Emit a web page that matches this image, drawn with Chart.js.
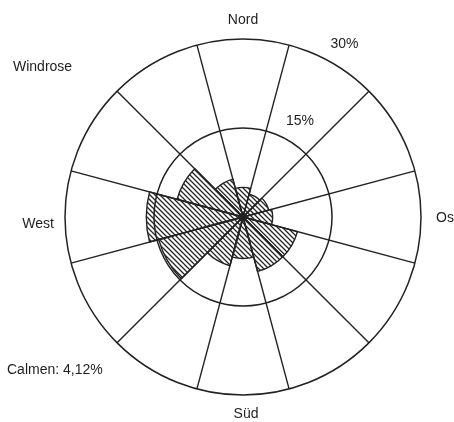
<!DOCTYPE html>
<html>
<head>
<meta charset="utf-8">
<script src="https://cdn.jsdelivr.net/npm/chart.js@4/dist/chart.umd.min.js"></script>
<style>
  html, body { margin: 0; padding: 0; background: #ffffff; }
  #wrap { width: 454px; height: 422px; }
</style>
</head>
<body>
<div id="wrap"><canvas id="c" width="454" height="422"></canvas></div>
<script>
// Sectors (30° each, clockwise from north)
const directions = ['0°', '30°', '60°', '90°', '120°', '150°', '180°', '210°', '240°', '270°', '300°', '330°'];
// Frequency per sector in percent
const frequencies = [5.0, 4.0, 4.5, 5.0, 9.5, 9.5, 7.0, 8.5, 14.7, 16.3, 11.5, 6.6];
// Ring values and their labels
const ringValues = [15, 30];
const ringLabels = ['15%', '30%'];
// Compass labels
const compassLabels = { north: 'Nord', east: 'Ost', south: 'Süd', west: 'West' };
const titleText = 'Windrose';
const calmText = 'Calmen: 4,12%';

function makeHatch() {
  const s = 5;
  const p = document.createElement('canvas');
  p.width = s; p.height = s;
  const g = p.getContext('2d');
  g.strokeStyle = '#262626';
  g.lineWidth = 1.3;
  g.beginPath();
  for (const k of [-s, 0, s]) {
    g.moveTo(k - 1, -1);
    g.lineTo(k + s + 1, s + 1);
  }
  g.stroke();
  return g.createPattern(p, 'repeat');
}

const FONT = '14px "Liberation Sans", Arial, sans-serif';
const TXT = '#1e1e1e';

const textPlugin = {
  id: 'roseText',
  afterDraw(chart) {
    const ctx = chart.ctx;
    const sc = chart.scales.r;
    const cx = sc.xCenter, cy = sc.yCenter;
    const R = sc.getDistanceFromCenterForValue(sc.max);
    ctx.save();
    ctx.font = FONT;
    ctx.fillStyle = TXT;
    // ring labels at 30° from north, a bit outside each ring
    ctx.textAlign = 'center';
    ctx.textBaseline = 'middle';
    const a = 30 * Math.PI / 180;
    ringValues.forEach((v, i) => {
      const r = sc.getDistanceFromCenterForValue(v) + 23;
      ctx.fillText(ringLabels[i], cx + r * Math.sin(a) + 1, cy - r * Math.cos(a) + 1);
    });
    // compass labels
    ctx.fillText(compassLabels.north, cx, cy - R - 19);
    ctx.fillText(compassLabels.south, cx + 3, cy + R + 19);
    ctx.textAlign = 'right';
    ctx.fillText(compassLabels.west, cx - R - 11, cy + 7);
    ctx.textAlign = 'left';
    ctx.fillText(compassLabels.east, cx + R + 15, cy + 1);
    // title and calm note
    ctx.fillText(titleText, 13, 67);
    ctx.fillText(calmText, 7, 370);
    ctx.restore();
  }
};

new Chart(document.getElementById('c'), {
  type: 'polarArea',
  data: {
    labels: directions,
    datasets: [{
      data: frequencies,
      backgroundColor: makeHatch(),
      borderColor: '#222222',
      borderWidth: 1.4
    }]
  },
  options: {
    responsive: false,
    animation: false,
    layout: { padding: { left: 65, right: 33, top: 39, bottom: 27 } },
    plugins: { legend: { display: false }, tooltip: { enabled: false } },
    scales: {
      r: {
        min: 0,
        max: 30,
        startAngle: -15,
        ticks: { display: false, stepSize: 15 },
        pointLabels: { display: false },
        grid: { circular: true, color: '#222222', lineWidth: 1.5 },
        angleLines: { display: true, color: '#222222', lineWidth: 1.4 }
      }
    }
  },
  plugins: [textPlugin]
});
</script>
</body>
</html>
